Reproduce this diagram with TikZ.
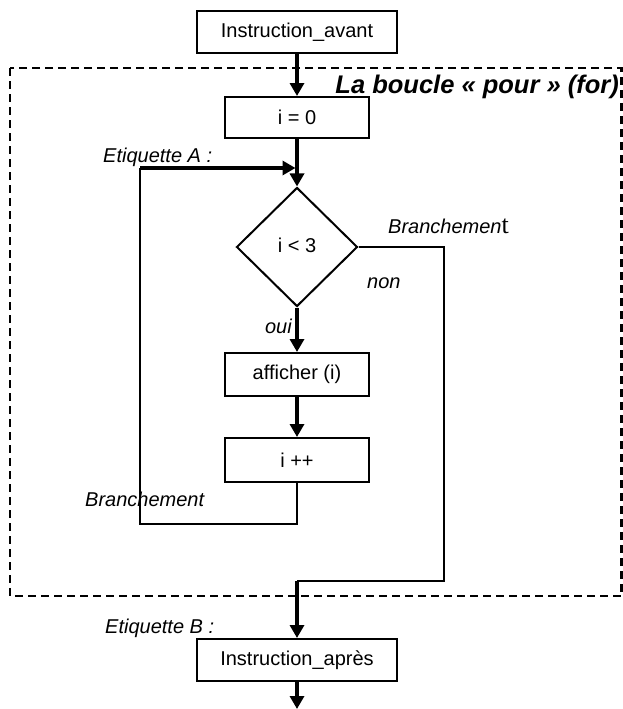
\documentclass[tikz,border=0pt]{standalone}
\usepackage{fontspec}
\setmainfont{Liberation Sans}
\newfontfamily\serifT{Liberation Serif}
\usetikzlibrary{arrows.meta,shapes.geometric}
\begin{document}
\begin{tikzpicture}[x=1pt,y=-1pt,
  box/.style={draw,line width=2pt,minimum width=144pt,minimum height=43pt,inner sep=0pt,font=\fontsize{20}{24}\selectfont},
  wide/.style={box,minimum width=200pt,minimum height=42pt},
  flow/.style={line width=3.5pt,-{Triangle[length=13pt,width=14pt]}},
  branch/.style={line width=2pt},
  lbl/.style={font=\fontsize{20}{24}\selectfont\itshape,inner sep=0pt,anchor=base west},
]
\useasboundingbox (0,0) rectangle (623,709);
\draw[line width=2.5pt,dash pattern=on 8pt off 5pt] (10,68) rectangle (621.5,596);

\node[wide] (avant) at (297,32) {Instruction\_avant};
\node[box,minimum height=41pt] (init) at (297,117.5) {i = 0};
\node[draw,diamond,line width=2pt,minimum width=121pt,minimum height=119pt,inner sep=0pt,font=\fontsize{20}{24}\selectfont] (cond) at (297,247) {\raisebox{4pt}{i < 3}};
\node[box] (aff) at (297,374.5) {afficher (i)};
\node[box,minimum height=44pt] (inc) at (297,460) {i ++};
\node[wide] (apres) at (297,660) {Instruction\_après};

\coordinate (jA) at (297,168);
\coordinate (lA) at (140,168);
\coordinate (lB) at (140,524);
\coordinate (incB) at (297,524);
\coordinate (r1) at (444,247);
\coordinate (r2) at (444,581);
\coordinate (jB) at (297,581);
\coordinate (end) at (297,709);

\draw[flow] (avant) -- (init);
\draw[flow] (init) -- (cond);
\draw[branch] (inc.south) -- (incB) -- (lB) -- (lA);
\draw[flow,shorten >=1.5pt] (lA) -- (jA);
\draw[flow] (cond) -- (aff);
\draw[flow] (aff) -- (inc);
\draw[branch] (cond.east) -- (r1) -- (r2) -- (jB);
\draw[flow] (jB) -- (apres);
\draw[flow] (apres) -- (end);

\node[lbl] (labA) at (103,162) {Etiquette A :};
\node[lbl] (br1) at (388,233) {Branchemen{\upshape\serifT\fontsize{26}{26}\selectfont t}};
\node[lbl] (non) at (367,288) {non};
\node[lbl,anchor=base east] (oui) at (292,333) {oui};
\node[lbl] (br2) at (85,506) {Branchement};
\node[lbl] (labB) at (105,633) {Etiquette B :};
\node[font=\fontsize{25.5}{30}\selectfont\bfseries\itshape,anchor=base east,inner sep=0pt] (title) at (619,93) {La boucle « pour » (for)};
\end{tikzpicture}
\end{document}
